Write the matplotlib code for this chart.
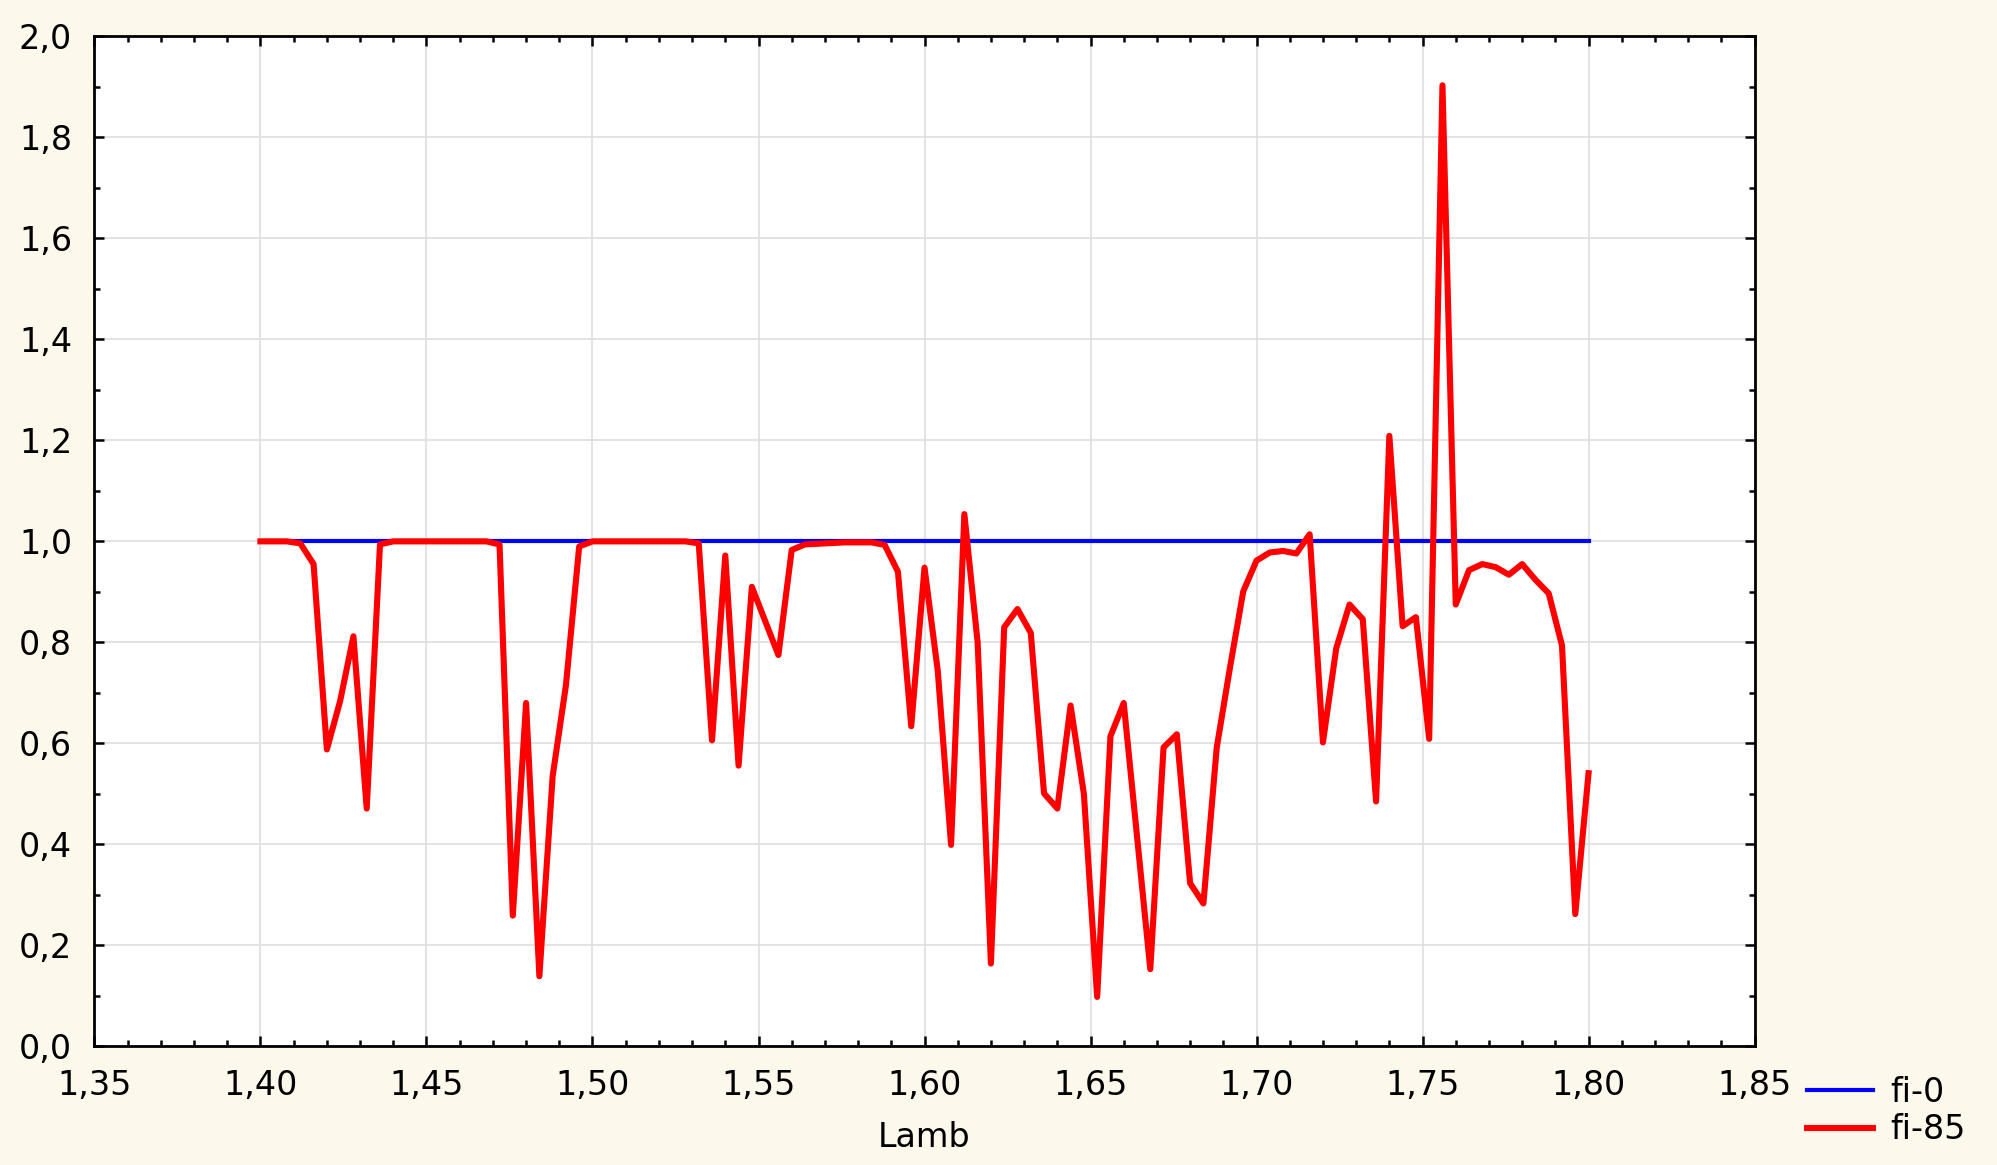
import numpy as np
import matplotlib
matplotlib.use('Agg')
import matplotlib.pyplot as plt
from matplotlib.ticker import MultipleLocator, FuncFormatter

# fi-0 reference line
lamb_fi0 = [1.40, 1.80]
val_fi0 = [1.0, 1.0]

# fi-85 curve, vertices
lamb_fi85 = [
    1.400, 1.408, 1.412, 1.416, 1.420, 1.424, 1.428, 1.432, 1.436, 1.440,
    1.468, 1.472, 1.476, 1.480, 1.484, 1.488, 1.492, 1.496, 1.500, 1.528,
    1.532, 1.536, 1.540, 1.544, 1.548, 1.556, 1.560, 1.564, 1.576, 1.584,
    1.588, 1.592, 1.596, 1.600, 1.604, 1.608, 1.612, 1.616, 1.620, 1.624,
    1.628, 1.632, 1.636, 1.640, 1.644, 1.648, 1.652, 1.656, 1.660, 1.668,
    1.672, 1.676, 1.680, 1.684, 1.688, 1.692, 1.696, 1.700, 1.704, 1.708,
    1.712, 1.716, 1.720, 1.724, 1.728, 1.732, 1.736, 1.740, 1.744, 1.748,
    1.752, 1.756, 1.760, 1.764, 1.768, 1.772, 1.776, 1.780, 1.784, 1.788,
    1.792, 1.796, 1.800,
]
val_fi85 = [
    1.000, 1.000, 0.996, 0.955, 0.588, 0.684, 0.812, 0.471, 0.994, 1.000,
    1.000, 0.994, 0.259, 0.680, 0.139, 0.535, 0.715, 0.990, 1.000, 1.000,
    0.996, 0.606, 0.972, 0.556, 0.910, 0.775, 0.983, 0.994, 0.998, 0.998,
    0.993, 0.940, 0.634, 0.948, 0.743, 0.399, 1.054, 0.800, 0.164, 0.830,
    0.866, 0.819, 0.501, 0.471, 0.675, 0.500, 0.098, 0.614, 0.680, 0.153,
    0.592, 0.618, 0.323, 0.283, 0.591, 0.750, 0.901, 0.962, 0.978, 0.981,
    0.976, 1.014, 0.602, 0.788, 0.875, 0.846, 0.485, 1.209, 0.832, 0.850,
    0.609, 1.903, 0.875, 0.943, 0.955, 0.949, 0.934, 0.955, 0.924, 0.897,
    0.794, 0.262, 0.541,
]

bg = '#fdf8ec'
fs = 24
plt.rcParams['font.family'] = ['DejaVu Sans']

fig = plt.figure(figsize=(19.97, 11.65), dpi=100, facecolor=bg)
ax = fig.add_axes([0.0473, 0.1018, 0.8313, 0.8670])
ax.set_facecolor('white')

ax.plot(lamb_fi0, val_fi0, color='#0000ff', lw=3.0, label='fi-0', zorder=3)
ax.plot(lamb_fi85, val_fi85, color='#ff0000', lw=4.4, label='fi-85', zorder=4)

ax.set_xlim(1.35, 1.85)
ax.set_ylim(0.0, 2.0)
ax.xaxis.set_major_locator(MultipleLocator(0.05))
ax.xaxis.set_minor_locator(MultipleLocator(0.01))
ax.yaxis.set_major_locator(MultipleLocator(0.2))
ax.yaxis.set_minor_locator(MultipleLocator(0.1))
ax.xaxis.set_major_formatter(FuncFormatter(lambda v, p: f'{v:.2f}'.replace('.', ',')))
ax.yaxis.set_major_formatter(FuncFormatter(lambda v, p: f'{v:.1f}'.replace('.', ',')))

ax.grid(True, which='major', color='#e0e0e0', lw=1.3, zorder=0)
ax.tick_params(which='both', direction='in', top=True, right=True, width=1.8, color='black')
ax.tick_params(which='major', length=7, labelsize=fs)
ax.tick_params(which='minor', length=4.5)
ax.tick_params(axis='y', which='major', pad=16)
ax.tick_params(axis='x', which='major', pad=16)
for s in ax.spines.values():
    s.set_linewidth(2.0)
    s.set_color('black')

ax.set_xlabel('Lamb', fontsize=fs, labelpad=14)

ax.legend(loc='upper left', bbox_to_anchor=(0.905, 0.0765), bbox_transform=fig.transFigure,
          frameon=False, fontsize=fs, handlelength=1.98, handletextpad=0.5,
          labelspacing=0.13, borderaxespad=0, borderpad=0)

fig.savefig('out.png', dpi=100, facecolor=bg)
